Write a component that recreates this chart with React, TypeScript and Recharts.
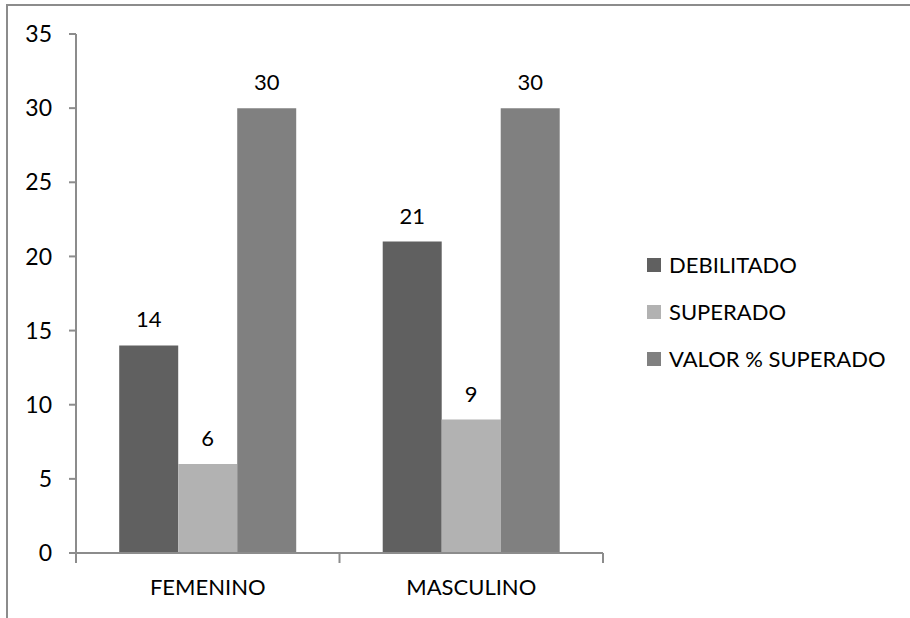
import React from "react";
import { BarChart, Bar, XAxis, YAxis, LabelList } from "recharts";

const categories = ["FEMENINO", "MASCULINO"];
const debilitado = [14, 21];
const superado = [6, 9];
const valorSuperado = [30, 30];
const yTicks = [0, 5, 10, 15, 20, 25, 30, 35];

const seriesNames = ["DEBILITADO", "SUPERADO", "VALOR % SUPERADO"];
const seriesColors = ["#606060", "#b2b2b2", "#808080"];

const data = categories.map((c, i) => ({
  name: c,
  deb: debilitado[i],
  sup: superado[i],
  val: valorSuperado[i],
}));

const FONT = "Lato, 'Noto Sans', sans-serif";
const AXIS = "#8c8c8c";

const XTick = (props: any) => {
  const { x, y, payload, index, visibleTicksCount } = props;
  const half = payload && payload.offset ? payload.offset : 0;
  const n = visibleTicksCount || categories.length;
  return (
    <g>
      <line x1={x - half} y1={y - 8} x2={x - half} y2={y + 2} stroke={AXIS} strokeWidth={2} />
      {index === n - 1 && (
        <line x1={x + half} y1={y - 8} x2={x + half} y2={y + 2} stroke={AXIS} strokeWidth={2} />
      )}
      <text x={x} y={y + 34} textAnchor="middle" fontFamily={FONT} fontSize={22} fill="#000">
        {payload.value}
      </text>
    </g>
  );
};

const LegendBox = () => (
  <div style={{ position: "absolute", left: 647, top: 241, fontFamily: FONT, fontSize: 22, color: "#000" }}>
    {seriesNames.map((n, i) => (
      <div key={n} style={{ display: "flex", alignItems: "center", height: 47 }}>
        <span
          style={{
            display: "inline-block",
            width: 14,
            height: 14,
            background: seriesColors[i],
            marginRight: 8,
          }}
        />
        <span style={{ whiteSpace: "nowrap" }}>{n}</span>
      </div>
    ))}
  </div>
);

const labelStyle = { fontFamily: FONT, fontSize: 22, fill: "#000" };

export default function App() {
  return (
    <div style={{ position: "absolute", left: 0, top: 0, width: 910, height: 618, overflow: "hidden", background: "#fff" }}>
      <div
        style={{
          position: "absolute",
          left: 6,
          top: 4,
          width: 1000,
          height: 1000,
          borderLeft: "2px solid #8c8c8c",
          borderTop: "2px solid #8c8c8c",
          boxSizing: "border-box",
        }}
      />
      <div style={{ position: "absolute", left: 0, top: 0 }}>
        <BarChart
          width={910}
          height={618}
          data={data}
          margin={{ top: 34, right: 307, bottom: 0, left: 16 }}
          barCategoryGap="16.4%"
          barGap={0}
        >
          <XAxis
            dataKey="name"
            axisLine={{ stroke: AXIS, strokeWidth: 2 }}
            tickLine={false}
            tick={<XTick />}
            interval={0}
            height={65}
          />
          <YAxis
            domain={[0, 35]}
            ticks={yTicks}
            interval={0}
            width={60}
            axisLine={{ stroke: AXIS, strokeWidth: 2 }}
            tickLine={{ stroke: AXIS, strokeWidth: 2 }}
            tickSize={7}
            tickMargin={17}
            tick={{ fontFamily: FONT, fontSize: 23, fill: "#000" }}
          />
          <Bar dataKey="deb" name={seriesNames[0]} fill={seriesColors[0]} isAnimationActive={false}>
            <LabelList dataKey="deb" position="top" offset={18} style={labelStyle} />
          </Bar>
          <Bar dataKey="sup" name={seriesNames[1]} fill={seriesColors[1]} isAnimationActive={false}>
            <LabelList dataKey="sup" position="top" offset={18} style={labelStyle} />
          </Bar>
          <Bar dataKey="val" name={seriesNames[2]} fill={seriesColors[2]} isAnimationActive={false}>
            <LabelList dataKey="val" position="top" offset={18} style={labelStyle} />
          </Bar>
        </BarChart>
      </div>
      <LegendBox />
    </div>
  );
}
